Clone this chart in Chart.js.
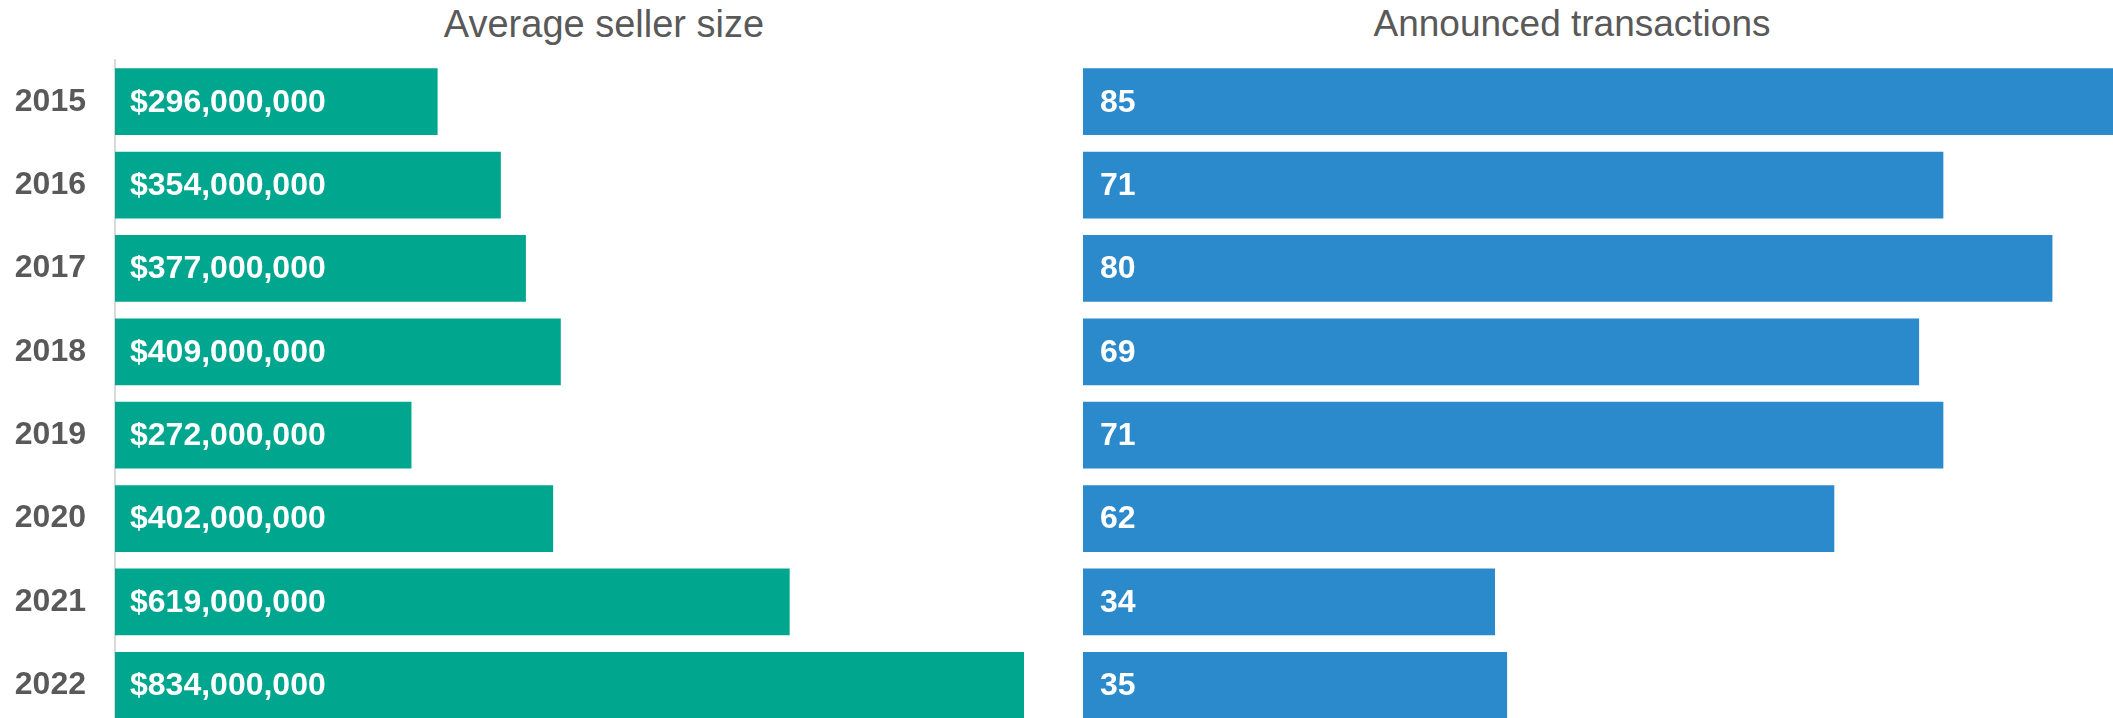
<!DOCTYPE html>
<html>
<head>
<meta charset="utf-8">
<script src="https://cdn.jsdelivr.net/npm/chart.js@4.4.1/dist/chart.umd.min.js"></script>
<style>
    html, body { margin: 0; padding: 0; background: #fff; overflow: hidden; }
    #wrap { position: relative; width: 2113px; height: 718px; overflow: hidden; }
    .panel-title {
        position: absolute; top: 2px; width: 600px; height: 44px; line-height: 44px;
        text-align: center; font-family: "Liberation Sans", Arial, sans-serif;
        font-size: 37px; color: #595959; white-space: nowrap;
    }
    canvas { position: absolute; top: 0; }
</style>
</head>
<body>
<div id="wrap">
    <div class="panel-title" style="left: 304px; font-size: 38px;">Average seller size</div>
    <div class="panel-title" style="left: 1272px;">Announced transactions</div>
    <canvas id="sellerChart" width="1024" height="727" style="left: 0;"></canvas>
    <canvas id="dealsChart" width="1030" height="727" style="left: 1083px;"></canvas>
</div>
<script>
// --- DATA ---
const years = ['2015', '2016', '2017', '2018', '2019', '2020', '2021', '2022'];
const avgSellerSize = [296000000, 354000000, 377000000, 409000000, 272000000, 402000000, 619000000, 834000000];
const announcedDeals = [85, 71, 80, 69, 71, 62, 34, 35];

const FONT = '"Liberation Sans", Arial, sans-serif';
const GREY = '#595959';

// writes the value inside each bar, near its base
const barLabels = {
    id: 'barLabels',
    afterDatasetsDraw(chart, args, opts) {
        const ctx = chart.ctx;
        const meta = chart.getDatasetMeta(0);
        const values = chart.data.datasets[0].data;
        ctx.save();
        ctx.font = 'bold 32px ' + FONT;
        ctx.fillStyle = '#ffffff';
        ctx.textAlign = 'left';
        ctx.textBaseline = 'middle';
        meta.data.forEach((bar, i) => {
            ctx.fillText(opts.format(values[i]), bar.base + opts.inset, bar.y + 1);
        });
        ctx.restore();
    }
};

function panel(id, values, color, showYears, format, inset) {
    const yAxis = {
        display: showYears,
        grid: { display: false, drawTicks: false },
        border: { display: true, color: '#d9d9d9', width: 2 },
        ticks: { padding: 29, color: GREY, font: { family: FONT, size: 32, weight: 'bold' } }
    };
    if (showYears) {
        // fixed gutter for the year labels, and no extra room for half-label overhang
        yAxis.afterFit = scale => {
            scale.width = 115;
            scale.paddingTop = 0;
            scale.paddingBottom = 0;
        };
    }
    return new Chart(document.getElementById(id), {
        type: 'bar',
        data: {
            labels: years,
            datasets: [{
                data: values,
                backgroundColor: color,
                borderWidth: 0,
                barPercentage: 0.8,
                categoryPercentage: 1.0
            }]
        },
        options: {
            indexAxis: 'y',
            responsive: false,
            animation: false,
            events: [],
            layout: { padding: { top: 60, left: 0, right: 0, bottom: 0 } },
            scales: {
                x: { display: false, min: 0, max: Math.max(...values) },
                y: yAxis
            },
            plugins: {
                legend: { display: false },
                tooltip: { enabled: false },
                barLabels: { format, inset }
            }
        },
        plugins: [barLabels]
    });
}

panel('sellerChart', avgSellerSize, '#00a78e', true, v => '$' + v.toLocaleString('en-US'), 15);
panel('dealsChart', announcedDeals, '#2a8acb', false, v => String(v), 17);
</script>
</body>
</html>
